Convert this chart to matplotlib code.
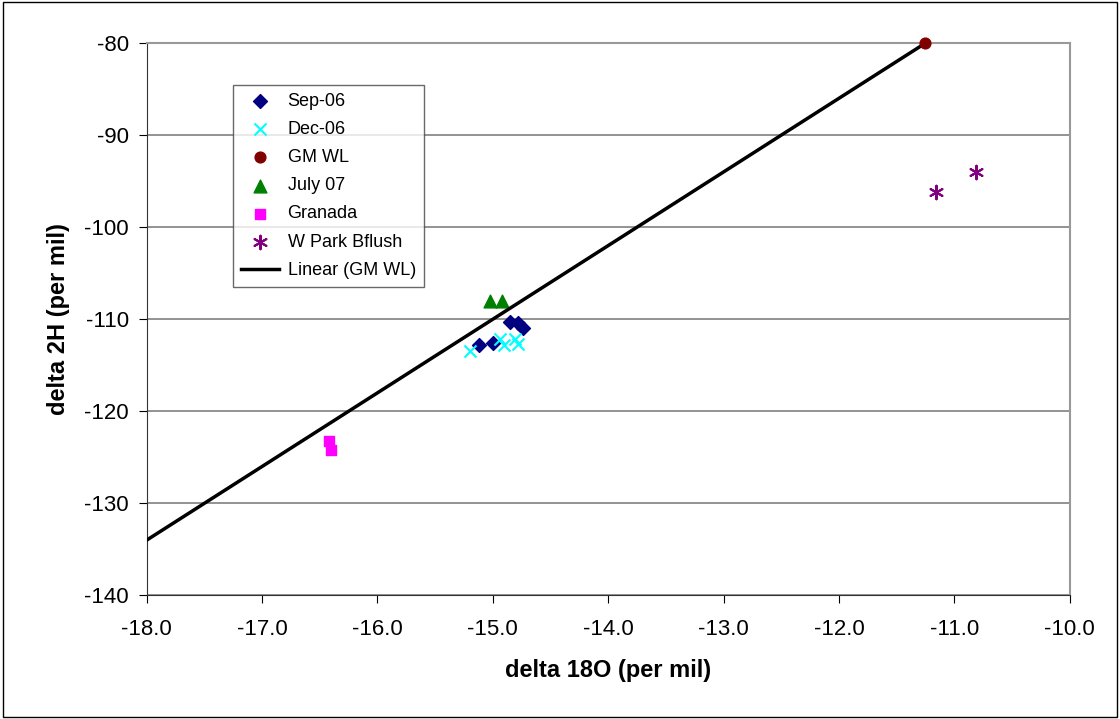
import numpy as np
import matplotlib.pyplot as plt
from matplotlib.patches import Rectangle

plt.rcParams['font.family'] = ['Liberation Sans', 'DejaVu Sans']
plt.rcParams['axes.unicode_minus'] = False

# data
sep06_x = [-15.12, -15.00, -14.85, -14.78, -14.74]
sep06_y = [-112.8, -112.6, -110.3, -110.4, -111.0]
dec06_x = [-15.20, -14.94, -14.90, -14.81, -14.78]
dec06_y = [-113.4, -112.2, -112.8, -112.2, -112.7]
gmwl_x = [-11.25]
gmwl_y = [-80.0]
july07_x = [-15.02, -14.92]
july07_y = [-108.0, -108.0]
granada_x = [-16.42, -16.40]
granada_y = [-123.2, -124.2]
wpark_x = [-11.16, -10.81]
wpark_y = [-96.2, -94.0]
# GMWL: d2H = 8 * d18O + 10
line_x = np.array([-18.0, -11.25])
line_y = 8 * line_x + 10

fig = plt.figure(figsize=(11.2, 7.19), dpi=100)
ax = fig.add_axes([0.131, 0.172, 0.824, 0.768])

ax.scatter(sep06_x, sep06_y, marker='D', s=50, color='#000080', label='Sep-06', zorder=3)
ax.scatter(dec06_x, dec06_y, marker='x', s=75, color='#00FFFF', linewidths=1.5, label='Dec-06', zorder=3)
ax.scatter(gmwl_x, gmwl_y, marker='o', s=60, color='#800000', label='GM WL', zorder=4, clip_on=False)
ax.scatter(july07_x, july07_y, marker='^', s=85, color='#008000', label='July 07', zorder=3)
ax.scatter(granada_x, granada_y, marker='s', s=50, color='#FF00FF', label='Granada', zorder=3)
ax.scatter(wpark_x, wpark_y, marker=(6, 2, 0), s=95, color='#800080', linewidths=1.5,
           label='W Park Bflush', zorder=3)
ax.plot(line_x, line_y, color='black', lw=2.5, label='Linear (GM WL)', zorder=3)

ax.set_xlim(-18, -10)
ax.set_ylim(-140, -80)
ax.set_xticks(np.arange(-18, -9.9, 1.0))
ax.set_xticklabels([f'{v:.1f}' for v in np.arange(-18, -9.9, 1.0)])
ax.set_yticks(np.arange(-140, -79, 10))
ax.yaxis.grid(True, color='#808080', lw=1.2)
ax.set_axisbelow(True)
ax.spines['top'].set_color('#999999')
ax.spines['right'].set_color('#999999')
ax.spines['top'].set_linewidth(1.5)
ax.spines['right'].set_linewidth(1.5)
ax.spines['left'].set_color('#333333')
ax.spines['bottom'].set_color('#333333')
ax.tick_params(labelsize=16, length=6, color='black')
ax.tick_params(axis='x', pad=11)
ax.tick_params(axis='y', pad=7)

ax.set_xlabel('delta 18O (per mil)', fontsize=17, fontweight='bold', labelpad=14)
ax.set_ylabel('delta 2H (per mil)', fontsize=17, fontweight='bold', labelpad=10)

leg = ax.legend(loc='upper left', bbox_to_anchor=(0.093, 0.925), fontsize=13,
                frameon=True, fancybox=False, edgecolor='#444444', borderpad=0.45,
                labelspacing=0.62, handlelength=2.1, handletextpad=0.5, borderaxespad=0)
leg.get_frame().set_linewidth(1.0)

fig.patches.append(Rectangle((0.003, 0.003), 0.994, 0.994, transform=fig.transFigure,
                             fill=False, edgecolor='black', lw=1))

fig.savefig('out.png', dpi=100)
